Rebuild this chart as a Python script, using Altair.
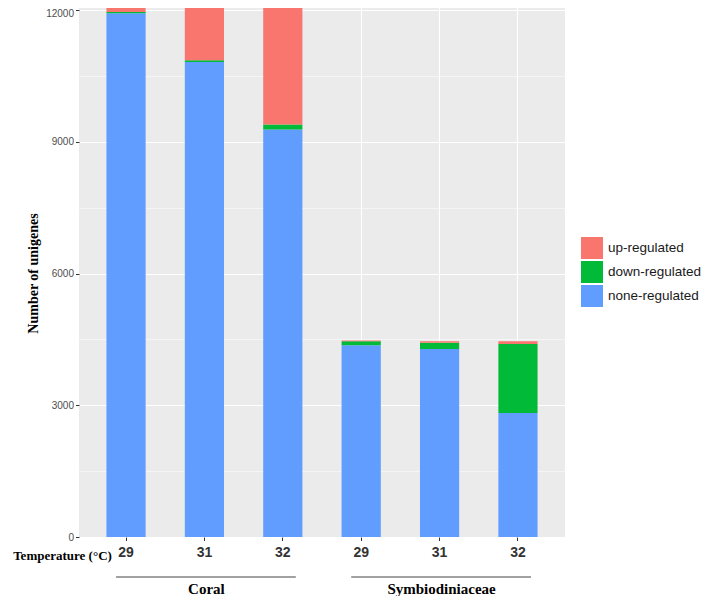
import altair as alt
import pandas as pd

# ---- data ----
groups = ["Coral", "Coral", "Coral", "Symbiodiniaceae", "Symbiodiniaceae", "Symbiodiniaceae"]
temps = ["29", "31", "32", "29", "31", "32"]
none_vals = [11930, 10820, 9280, 4370, 4280, 2825]
down_vals = [30, 40, 115, 90, 145, 1572]
up_vals = [480, 1560, 3050, 15, 35, 63]

types = ["up-regulated", "down-regulated", "none-regulated"]
colors = ["#F8766D", "#00BA38", "#619CFF"]
y_ticks = [0, 1500, 3000, 4500, 6000, 7500, 9000, 10500, 12000]

keys = [f"{g}|{t}" for g, t in zip(groups, temps)]
rows = []
for k, n, d, u in zip(keys, none_vals, down_vals, up_vals):
    rows.append({"key": k, "type": "none-regulated", "count": n, "rank": 0})
    rows.append({"key": k, "type": "down-regulated", "count": d, "rank": 1})
    rows.append({"key": k, "type": "up-regulated", "count": u, "rank": 2})
df = pd.DataFrame(rows)

gdf = pd.DataFrame({
    "group": ["Coral", "Symbiodiniaceae"],
    "first": [keys[0], keys[3]],
    "mid": [keys[1], keys[4]],
    "last": [keys[2], keys[5]],
})

xscale = alt.Scale(domain=keys, paddingInner=0, paddingOuter=0.1)

bars = alt.Chart(df).mark_bar(clip=True, width=alt.RelativeBandSize(0.5)).encode(
    x=alt.X(
        "key:N",
        scale=xscale,
        axis=alt.Axis(
            labelExpr="split(datum.label, '|')[1]",
            labelAngle=0,
            labelFont="Liberation Sans",
            labelFontSize=14,
            labelFontWeight="bold",
            labelColor="#333333",
            labelPadding=5,
            labelBaseline="top",
            tickSize=3.5,
            tickColor="#333333",
            tickWidth=1,
            bandPosition=0.5,
            domain=False,
            grid=True,
            gridColor="white",
            gridWidth=1.1,
            title="Temperature (°C)",
            titleFont="Liberation Serif",
            titleFontWeight="bold",
            titleFontSize=13,
            titleColor="black",
            titleAlign="center",
            titleBaseline="middle",
            titleX=-17,
            titleY=18,
        ),
    ),
    y=alt.Y(
        "count:Q",
        stack="zero",
        scale=alt.Scale(domain=[0, 12232], nice=False, zero=True),
        axis=alt.Axis(
            values=y_ticks,
            format="d",
            labelExpr="datum.value % 3000 === 0 ? datum.label : ''",
            labelFont="Liberation Sans",
            labelFontSize=10,
            labelColor="#4D4D4D",
            labelPadding=2,
            labelOffset={"condition": {"test": "datum.value === 12000", "value": 3}, "value": 0},
            tickSize=3.5,
            tickColor="#333333",
            tickOpacity={"condition": {"test": "datum.value % 3000 === 0", "value": 1}, "value": 0},
            domain=False,
            grid=True,
            gridColor="white",
            gridWidth={"condition": {"test": "datum.value % 3000 === 0", "value": 1.1}, "value": 0.5},
            title="Number of unigenes",
            titleFont="Liberation Serif",
            titleFontWeight="bold",
            titleFontSize=14,
            titleColor="black",
            titleAngle=-90,
            titleAlign="center",
            titleBaseline="middle",
            titleX=-46,
            titleY=273,
        ),
    ),
    color=alt.Color(
        "type:N",
        scale=alt.Scale(domain=types, range=colors),
        title=None,
        legend=alt.Legend(
            orient="none",
            legendX=502,
            legendY=237,
            padding=0,
            symbolType="square",
            symbolSize=484,
            symbolStrokeWidth=0,
            symbolOpacity=1,
            labelFont="Liberation Sans",
            labelFontSize=13.5,
            labelColor="#1A1A1A",
            labelOffset=5,
            labelLimit=200,
            rowPadding=2,
        ),
    ),
    order=alt.Order("rank:Q", sort="ascending"),
)

rule = alt.Chart(gdf).mark_rule(color="#444444", strokeWidth=1.1, xOffset=-10, x2Offset=13).encode(
    x=alt.X("first:N", scale=xscale, axis=None, bandPosition=0.5),
    x2=alt.X2("last:N", bandPosition=0.5),
    y=alt.value(577),
)

text = alt.Chart(gdf).mark_text(
    font="Liberation Serif", fontWeight="bold", fontSize=15, color="black", baseline="middle", dx=2
).encode(
    x=alt.X("mid:N", scale=xscale, axis=None, bandPosition=0.5),
    text="group:N",
    y=alt.value(589),
)

chart = alt.layer(bars, rule, text).resolve_axis(x="independent").properties(
    width=486,
    height=537,
    padding={"left": 71, "top": -8, "right": 136, "bottom": 59},
    autosize=alt.AutoSizeParams(type="none"),
).configure_view(fill="#EBEBEB", stroke=None)

chart.save("out.html", embed_options={"renderer": "svg", "actions": False})
